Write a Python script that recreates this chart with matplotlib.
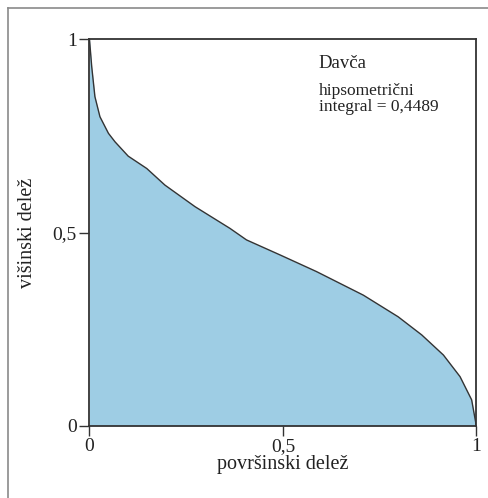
import numpy as np
import matplotlib.pyplot as plt
from matplotlib.lines import Line2D

# hypsometric curve points
area_share = [0.0, 0.0057, 0.014, 0.027, 0.049, 0.066, 0.10, 0.148, 0.195, 0.273,
              0.363, 0.406, 0.493, 0.587, 0.708, 0.798, 0.859, 0.915, 0.958, 0.988, 1.0]
height_share = [1.0, 0.93, 0.852, 0.80, 0.757, 0.735, 0.698, 0.666, 0.623, 0.567,
                0.511, 0.481, 0.442, 0.399, 0.338, 0.282, 0.235, 0.183, 0.127, 0.067, 0.0]
title = "Davča"
note_lines = ["hipsometrični", "integral = 0,4489"]
ticks = [0, 0.5, 1]
tick_labels = ["0", "0,5", "1"]

plt.rcParams['font.family'] = ['Liberation Serif', 'DejaVu Serif']

fig = plt.figure(figsize=(4.88, 4.98), dpi=100)
ax = fig.add_axes([0.1834, 0.1452, 0.7926, 0.7755])

ax.fill_between(area_share, height_share, 0, color='#9ecde4', linewidth=0)
ax.plot(area_share, height_share, color='#333333', linewidth=1.0)

ax.set_xlim(0, 1)
ax.set_ylim(0, 1)
ax.set_xticks(ticks)
ax.set_xticklabels(tick_labels)
ax.set_yticks(ticks)
ax.set_yticklabels(tick_labels)
ax.tick_params(direction='out', length=7, width=1.0, color='#333333',
               labelsize=14, labelcolor='#222222', pad=2)
for s in ax.spines.values():
    s.set_color('#333333')
    s.set_linewidth(1.3)

ax.set_xlabel("površinski delež", fontsize=14.5, color='#222222', labelpad=0)
ax.set_ylabel("višinski delež", fontsize=14.5, color='#222222', labelpad=11)

ax.text(0.593, 0.926, title, fontsize=13.5, color='#222222', va='baseline')
ax.text(0.593, 0.857, note_lines[0], fontsize=12.5, color='#222222', va='baseline')
ax.text(0.593, 0.815, note_lines[1], fontsize=12.5, color='#222222', va='baseline')

# outer frame (only top and left visible)
fig.add_artist(Line2D([8 / 488, 8 / 488], [0, 1 - 8 / 498], color='#8a8a8a',
                      linewidth=1.2, transform=fig.transFigure))
fig.add_artist(Line2D([8 / 488, 1], [1 - 8 / 498, 1 - 8 / 498], color='#8a8a8a',
                      linewidth=1.2, transform=fig.transFigure))

fig.savefig("out.png", dpi=100)
